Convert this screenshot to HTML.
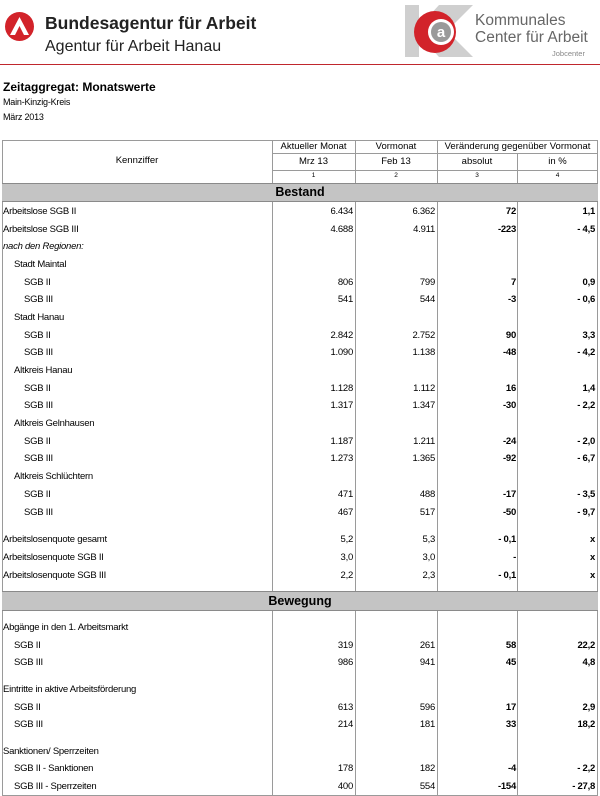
<!DOCTYPE html>
<html><head><meta charset="utf-8"><style>
*{margin:0;padding:0;box-sizing:border-box}
body{width:600px;height:796px;background:#fff;position:relative;overflow:hidden;font-family:"Liberation Sans",Arial,sans-serif;color:#000}
.a{position:absolute;white-space:nowrap}
.r{position:absolute;left:2px;width:596px;height:18px;line-height:18px;font-size:9.5px;letter-spacing:-0.25px}
.r span{position:absolute;top:0}
.c0{left:1px}
.c1{right:245px}
.c2{right:163px}
.c3{right:82px;font-weight:bold}
.c4{right:3px;font-weight:bold}
.vl{position:absolute;width:1px;background:#9a9a9a}
.hl{position:absolute;height:1px;background:#9a9a9a}
.g{position:absolute;left:2px;width:596px;background:#c4c4c4;border-top:1px solid #8a8a8a;border-bottom:1px solid #8a8a8a;text-align:center;font-weight:bold;font-size:12.5px;z-index:2}
</style></head><body>
<div class="a" style="left:5px;top:12px;width:29px;height:29px;border-radius:50%;background:#d2232a"></div>
<svg class="a" style="left:5px;top:12px" width="29" height="29"><polygon points="14.5,5 24,23 19,23 14.5,14 10,23 5,23" fill="#fff"/></svg>
<div class="a" style="left:45px;top:13px;font-size:17.5px;font-weight:bold;color:#222">Bundesagentur für Arbeit</div>
<div class="a" style="left:45px;top:38px;font-size:16px;color:#222">Agentur für Arbeit Hanau</div>
<svg class="a" style="left:405px;top:5px" width="68" height="52">
<polygon points="0,0 14,0 14,22 34,0 68,0 42,26 68,52 34,52 14,30 14,52 0,52" fill="#cfcfcf"/>
<circle cx="30" cy="27" r="21" fill="#d2232a"/>
<circle cx="36" cy="27" r="13" fill="#fff"/>
<circle cx="36" cy="27" r="10" fill="#9a9a9a"/>
<text x="36" y="32" font-family="Liberation Sans" font-weight="bold" font-size="15" fill="#fff" text-anchor="middle">a</text>
</svg>
<div class="a" style="left:475px;top:12px;font-size:15.5px;color:#666">Kommunales</div>
<div class="a" style="left:475px;top:29px;font-size:15.5px;color:#666">Center für Arbeit</div>
<div class="a" style="left:552px;top:49px;font-size:7.5px;color:#888">Jobcenter</div>
<div class="a" style="left:0;top:64px;width:600px;height:1px;background:#c0272d"></div>
<div class="a" style="left:3px;top:80px;font-size:12px;font-weight:bold">Zeitaggregat: Monatswerte</div>
<div class="a" style="left:3px;top:97px;font-size:9px;letter-spacing:-0.2px">Main-Kinzig-Kreis</div>
<div class="a" style="left:3px;top:112px;font-size:9px;letter-spacing:-0.2px">März 2013</div>

<div class="hl" style="left:2px;top:140px;width:596px"></div>
<div class="hl" style="left:272px;top:153px;width:326px"></div>
<div class="hl" style="left:272px;top:170px;width:326px"></div>
<div class="hl" style="left:2px;top:795px;width:596px"></div>
<div class="vl" style="left:2px;top:140px;height:656px"></div>
<div class="vl" style="left:597px;top:140px;height:656px"></div>
<div class="vl" style="left:272px;top:140px;height:656px"></div>
<div class="vl" style="left:355px;top:140px;height:656px"></div>
<div class="vl" style="left:437px;top:140px;height:656px"></div>
<div class="vl" style="left:517px;top:153px;height:643px"></div>
<div class="a" style="left:2px;width:270px;top:155px;text-align:center;font-size:9.5px">Kennziffer</div>
<div class="a" style="left:272px;width:83px;top:141px;text-align:center;font-size:9.5px">Aktueller Monat</div>
<div class="a" style="left:355px;width:82px;top:141px;text-align:center;font-size:9.5px">Vormonat</div>
<div class="a" style="left:437px;width:161px;top:141px;text-align:center;font-size:9.5px">Veränderung gegenüber Vormonat</div>
<div class="a" style="left:272px;width:83px;top:156px;text-align:center;font-size:9.5px">Mrz 13</div>
<div class="a" style="left:355px;width:82px;top:156px;text-align:center;font-size:9.5px">Feb 13</div>
<div class="a" style="left:437px;width:80px;top:156px;text-align:center;font-size:9.5px">absolut</div>
<div class="a" style="left:517px;width:81px;top:156px;text-align:center;font-size:9.5px">in %</div>
<div class="a" style="left:272px;width:83px;top:172px;text-align:center;font-size:6.5px">1</div>
<div class="a" style="left:355px;width:82px;top:172px;text-align:center;font-size:6.5px">2</div>
<div class="a" style="left:437px;width:80px;top:172px;text-align:center;font-size:6.5px">3</div>
<div class="a" style="left:517px;width:81px;top:172px;text-align:center;font-size:6.5px">4</div>

<div class="g" style="top:183px;height:19px;line-height:17px">Bestand</div>
<div class="g" style="top:591px;height:20px;line-height:18px">Bewegung</div>

<div class="r" style="top:203px"><span class="c0">Arbeitslose SGB II</span><span class="c1">6.434</span><span class="c2">6.362</span><span class="c3">72</span><span class="c4">1,1</span></div>
<div class="r" style="top:221px"><span class="c0">Arbeitslose SGB III</span><span class="c1">4.688</span><span class="c2">4.911</span><span class="c3">-223</span><span class="c4">- 4,5</span></div>
<div class="r" style="top:238px"><span class="c0" style="font-style:italic">nach den Regionen:</span></div>
<div class="r" style="top:256px"><span class="c0" style="left:12px">Stadt Maintal</span></div>
<div class="r" style="top:274px"><span class="c0" style="left:22px">SGB II</span><span class="c1">806</span><span class="c2">799</span><span class="c3">7</span><span class="c4">0,9</span></div>
<div class="r" style="top:291px"><span class="c0" style="left:22px">SGB III</span><span class="c1">541</span><span class="c2">544</span><span class="c3">-3</span><span class="c4">- 0,6</span></div>
<div class="r" style="top:309px"><span class="c0" style="left:12px">Stadt Hanau</span></div>
<div class="r" style="top:327px"><span class="c0" style="left:22px">SGB II</span><span class="c1">2.842</span><span class="c2">2.752</span><span class="c3">90</span><span class="c4">3,3</span></div>
<div class="r" style="top:344px"><span class="c0" style="left:22px">SGB III</span><span class="c1">1.090</span><span class="c2">1.138</span><span class="c3">-48</span><span class="c4">- 4,2</span></div>
<div class="r" style="top:362px"><span class="c0" style="left:12px">Altkreis Hanau</span></div>
<div class="r" style="top:380px"><span class="c0" style="left:22px">SGB II</span><span class="c1">1.128</span><span class="c2">1.112</span><span class="c3">16</span><span class="c4">1,4</span></div>
<div class="r" style="top:397px"><span class="c0" style="left:22px">SGB III</span><span class="c1">1.317</span><span class="c2">1.347</span><span class="c3">-30</span><span class="c4">- 2,2</span></div>
<div class="r" style="top:415px"><span class="c0" style="left:12px">Altkreis Gelnhausen</span></div>
<div class="r" style="top:433px"><span class="c0" style="left:22px">SGB II</span><span class="c1">1.187</span><span class="c2">1.211</span><span class="c3">-24</span><span class="c4">- 2,0</span></div>
<div class="r" style="top:450px"><span class="c0" style="left:22px">SGB III</span><span class="c1">1.273</span><span class="c2">1.365</span><span class="c3">-92</span><span class="c4">- 6,7</span></div>
<div class="r" style="top:468px"><span class="c0" style="left:12px">Altkreis Schlüchtern</span></div>
<div class="r" style="top:486px"><span class="c0" style="left:22px">SGB II</span><span class="c1">471</span><span class="c2">488</span><span class="c3">-17</span><span class="c4">- 3,5</span></div>
<div class="r" style="top:504px"><span class="c0" style="left:22px">SGB III</span><span class="c1">467</span><span class="c2">517</span><span class="c3">-50</span><span class="c4">- 9,7</span></div>
<div class="r" style="top:531px"><span class="c0">Arbeitslosenquote gesamt</span><span class="c1">5,2</span><span class="c2">5,3</span><span class="c3">- 0,1</span><span class="c4">x</span></div>
<div class="r" style="top:549px"><span class="c0">Arbeitslosenquote SGB II</span><span class="c1">3,0</span><span class="c2">3,0</span><span class="c3">-</span><span class="c4">x</span></div>
<div class="r" style="top:567px"><span class="c0">Arbeitslosenquote SGB III</span><span class="c1">2,2</span><span class="c2">2,3</span><span class="c3">- 0,1</span><span class="c4">x</span></div>

<div class="r" style="top:619px"><span class="c0">Abgänge in den 1. Arbeitsmarkt</span></div>
<div class="r" style="top:637px"><span class="c0" style="left:12px">SGB II</span><span class="c1">319</span><span class="c2">261</span><span class="c3">58</span><span class="c4">22,2</span></div>
<div class="r" style="top:654px"><span class="c0" style="left:12px">SGB III</span><span class="c1">986</span><span class="c2">941</span><span class="c3">45</span><span class="c4">4,8</span></div>
<div class="r" style="top:681px"><span class="c0">Eintritte in aktive Arbeitsförderung</span></div>
<div class="r" style="top:699px"><span class="c0" style="left:12px">SGB II</span><span class="c1">613</span><span class="c2">596</span><span class="c3">17</span><span class="c4">2,9</span></div>
<div class="r" style="top:716px"><span class="c0" style="left:12px">SGB III</span><span class="c1">214</span><span class="c2">181</span><span class="c3">33</span><span class="c4">18,2</span></div>
<div class="r" style="top:743px"><span class="c0">Sanktionen/ Sperrzeiten</span></div>
<div class="r" style="top:760px"><span class="c0" style="left:12px">SGB II - Sanktionen</span><span class="c1">178</span><span class="c2">182</span><span class="c3">-4</span><span class="c4">- 2,2</span></div>
<div class="r" style="top:778px"><span class="c0" style="left:12px">SGB III - Sperrzeiten</span><span class="c1">400</span><span class="c2">554</span><span class="c3">-154</span><span class="c4">- 27,8</span></div>
</body></html>
